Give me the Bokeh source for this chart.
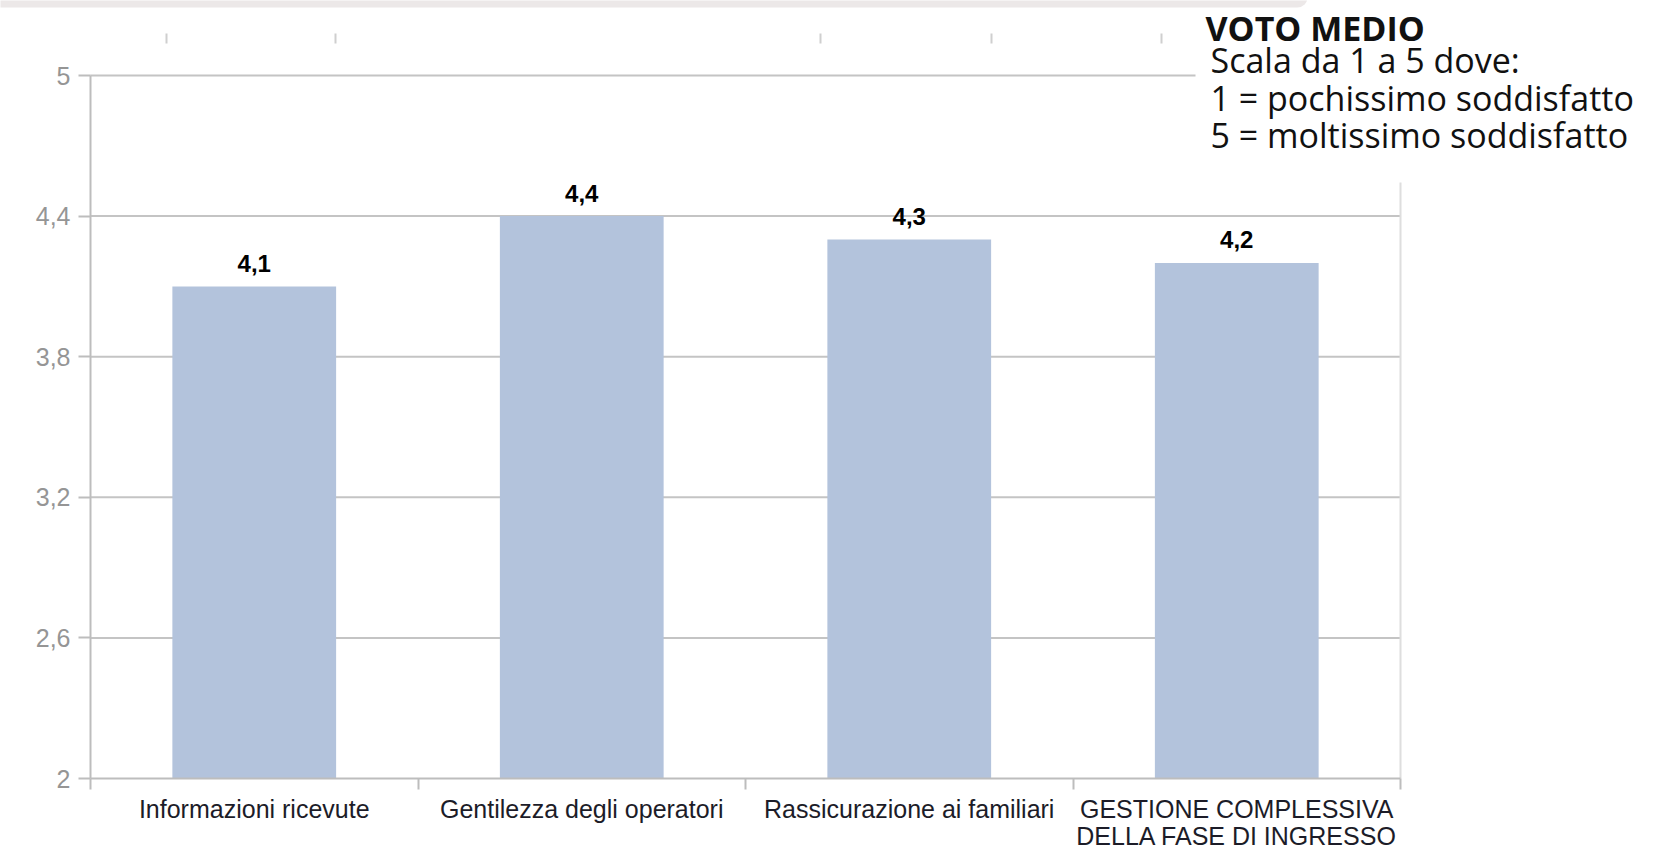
from bokeh.plotting import figure
from bokeh.models import Range1d, FixedTicker, Label, BoxAnnotation
from bokeh.embed import file_html
from bokeh.resources import INLINE
from bokeh.core.properties import value

# ---- data ----
categories = ["Informazioni ricevute", "Gentilezza degli operatori",
              "Rassicurazione ai familiari",
              "GESTIONE COMPLESSIVA\nDELLA FASE DI INGRESSO"]
scores = [4.1, 4.4, 4.3, 4.2]
score_labels = ["4,1", "4,4", "4,3", "4,2"]
y_ticks = [2, 2.6, 3.2, 3.8, 4.4, 5]
y_tick_labels = ["2", "2,6", "3,2", "3,8", "4,4", "5"]
legend_title = "VOTO MEDIO"
legend_lines = ["Scala da 1 a 5 dove:", "1 = pochissimo soddisfatto",
                "5 = moltissimo soddisfatto"]

n = len(categories)
centers = [i + 0.5 for i in range(n)]
boundaries = [float(i) for i in range(n + 1)]
y_min, y_max = min(y_ticks), max(y_ticks)

# ---- layout (pixels) ----
W, H = 1653, 854
PX_LEFT, PX_RIGHT = 90, 1400   # x = 0 and x = n
PY_TOP, PY_BOT = 75, 778       # y = 5 and y = 2
x_scale = (PX_RIGHT - PX_LEFT) / n
y_scale = (PY_BOT - PY_TOP) / (y_max - y_min)
x_start = -PX_LEFT / x_scale
x_end = (W - PX_LEFT) / x_scale
y_end = y_max + PY_TOP / y_scale
y_start = y_min - (H - PY_BOT) / y_scale

def xd(px):
    return (px - PX_LEFT) / x_scale

def yd(py):
    return y_max - (py - PY_TOP) / y_scale

p = figure(width=W, height=H, x_range=Range1d(x_start, x_end), y_range=Range1d(y_start, y_end),
           output_backend="svg", toolbar_location=None,
           min_border_left=0, min_border_right=0, min_border_top=0, min_border_bottom=0)
p.outline_line_color = None
p.background_fill_color = "white"
p.border_fill_color = "white"
p.xgrid.visible = False
p.ygrid.visible = False

GRID = "#c4c4c4"
AXIS = "#bdbdbd"

# top strip (page header remnant)
p.add_layout(BoxAnnotation(left=xd(-10), right=xd(1307), top=yd(-5), bottom=yd(7),
                           fill_color="#ece8e8", fill_alpha=1.0, line_color=None,
                           border_radius=dict(top_left=0, top_right=0,
                                              bottom_right=10, bottom_left=0),
                           level="underlay"))
# faint stray ticks at top
for tx in [166, 335, 820, 991, 1161]:
    p.segment(x0=[xd(tx)], y0=[yd(33)], x1=[xd(tx)], y1=[yd(43)],
              line_color="#cfcfcf", line_width=2)

# horizontal grid lines (top one hidden under the legend area)
grid_x1 = [n if t < y_max else xd(1195) for t in y_ticks[1:]]
p.segment(x0=[0] * len(y_ticks[1:]), y0=y_ticks[1:], x1=grid_x1, y1=y_ticks[1:],
          line_color=GRID, line_width=2)
# right border of plot area
p.segment(x0=[n], y0=[y_min], x1=[n], y1=[yd(182)], line_color="#dedede", line_width=2)

# y axis
ya = p.yaxis[0]
ya.fixed_location = 0
ya.bounds = (y_min, y_max)
ya.ticker = FixedTicker(ticks=y_ticks)
ya.major_label_overrides = {t: l for t, l in zip(y_ticks, y_tick_labels)}
ya.axis_line_color = AXIS
ya.axis_line_width = 2
ya.major_tick_line_color = AXIS
ya.major_tick_line_width = 2
ya.major_tick_out = 12
ya.major_tick_in = 0
ya.minor_tick_line_color = None
ya.major_label_standoff = 8
ya.major_label_text_font = "Liberation Sans"
ya.major_label_text_font_size = "25px"
ya.major_label_text_color = "#959595"

# x axis
xa = p.xaxis[0]
xa.fixed_location = y_min
xa.bounds = (0, n)
xa.ticker = FixedTicker(ticks=centers, minor_ticks=boundaries)
xa.major_label_overrides = {c: l for c, l in zip(centers, categories)}
xa.axis_line_color = AXIS
xa.axis_line_width = 2
xa.major_tick_line_color = None
xa.major_tick_out = 0
xa.major_tick_in = 0
xa.minor_tick_line_color = AXIS
xa.minor_tick_line_width = 2
xa.minor_tick_out = 11
xa.minor_tick_in = 0
xa.major_label_standoff = 5
xa.major_label_text_font = "Liberation Sans"
xa.major_label_text_font_size = "25px"
xa.major_label_text_color = "#1c1c28"
xa.major_label_text_line_height = 0.98

# bars
p.vbar(x=centers, top=scores, bottom=y_min, width=0.5,
       fill_color="#b3c3dc", line_color=None)
p.text(x=centers, y=scores, text=score_labels, y_offset=-23,
       text_align="center", text_baseline="alphabetic",
       text_font=value("Liberation Sans"), text_font_style="bold",
       text_font_size="24px", text_color="#000000")

# legend texts (screen units relative to plot frame bottom-left)
p.add_layout(Label(x=1205, y=H - 27, x_units="screen", y_units="screen",
                   text=legend_title, text_font="Open Sans", text_font_style="bold",
                   text_font_size="34px", text_color="#111111",
                   text_baseline="alphabetic", level="overlay"))
for line, by in zip(legend_lines, [59, 97, 134]):
    p.add_layout(Label(x=1210, y=H - by, x_units="screen", y_units="screen",
                       text=line, text_font="Open Sans",
                       text_font_size="34px", text_color="#111111",
                       text_baseline="alphabetic", level="overlay"))

open("out.html", "w").write(file_html(p, INLINE))
